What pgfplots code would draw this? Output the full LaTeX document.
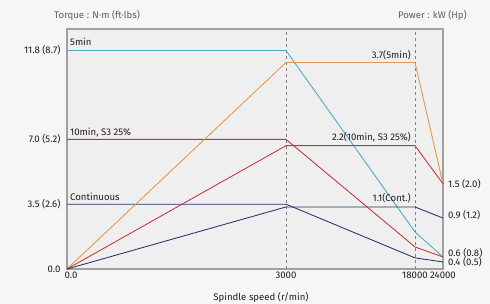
\documentclass[border=0pt]{standalone}
\usepackage{fontspec}
\setmainfont{Fira Sans}
\usepackage{pgfplots}
\pgfplotsset{compat=1.18}
\definecolor{pagebg}{HTML}{F6F6F6}
\definecolor{plotbg}{HTML}{EFEFEF}
\definecolor{framec}{HTML}{A0A0A0}
\definecolor{cyanl}{HTML}{4BA7C4}
\definecolor{orangel}{HTML}{E89548}
\definecolor{redl}{HTML}{C9303A}
\definecolor{navyl}{HTML}{253566}
\definecolor{titlegray}{HTML}{5E5E5E}
\definecolor{textc}{HTML}{1E1E1E}
\newcommand{\lblfont}{\fontsize{9.6}{11}\selectfont}
\begin{document}
\begin{tikzpicture}[x=1pt,y=1pt]
\fill[pagebg] (0,0) rectangle (490,304);
\useasboundingbox (0,0) rectangle (490,304);
% x positions: 0 rpm -> 0, 3000 -> 219, 18000 -> 348, 24000 -> 376 (non-linear speed axis)
\begin{axis}[at={(67pt,35pt)}, anchor=south west, scale only axis,
  width=376pt, height=240pt,
  xmin=0, xmax=376, ymin=0, ymax=12.96,
  clip=false,
  axis background/.style={fill=plotbg},
  axis line style={framec, line width=1.2pt},
  xtick={0,219,348,376}, xticklabels={\hspace{8pt}0.0,3000,18000\hspace{17pt},24000},
  ytick={0,3.5,7.0,11.8}, yticklabels={0.0,3.5 (2.6),7.0 (5.2),11.8 (8.7)},
  major tick length=0pt,
  /pgf/number format/assume math mode=true,
  tick label style={font=\lblfont, text=textc},
  xticklabel style={yshift=1pt},
  yticklabel style={xshift=-3pt},
  every axis plot/.append style={line width=0.85pt},
]
\addplot[gray, dashed, line width=0.7pt] coordinates {(219,0) (219,12.96)};
\addplot[gray, dashed, line width=0.7pt] coordinates {(348,0) (348,12.96)};
% torque
\addplot[cyanl] coordinates {(0,11.8) (219,11.8) (348,2.0) (376,0.65)};
\addplot[redl] coordinates {(0,7.0) (219,7.0) (348,1.19) (376,0.65)};
\addplot[navyl] coordinates {(0,3.5) (219,3.5) (348,0.6) (376,0.38)};
% power
\addplot[orangel] coordinates {(0,0) (219,11.15) (348,11.15) (376,4.6)};
\addplot[redl] coordinates {(0,0) (219,6.66) (348,6.66) (376,4.6)};
\addplot[navyl] coordinates {(0,0) (219,3.35) (348,3.35) (376,2.75)};
\begin{scope}[every node/.style={font=\lblfont, text=textc, inner sep=0pt}]
\node[anchor=base west] at (axis cs:3,11.8) [yshift=4.5pt] {5min};
\node[anchor=base west] at (axis cs:3,7.0) [yshift=3.5pt] {10min, S3 25\%};
\node[anchor=base west] at (axis cs:3,3.5) [yshift=3.5pt] {Continuous};
\node[anchor=base east] at (axis cs:344,11.15) [yshift=4.5pt] {3.7(5min)};
\node[anchor=base east] at (axis cs:344,6.66) [yshift=5pt] {2.2(10min, S3 25\%)};
\node[anchor=base east] at (axis cs:344,3.35) [yshift=5pt] {1.1(Cont.)};
\node[anchor=west] at (axis cs:376,4.6) [xshift=5pt] {1.5 (2.0)};
\node[anchor=west] at (axis cs:376,2.9) [xshift=5pt] {0.9 (1.2)};
\node[anchor=west] at (axis cs:376,0.88) [xshift=5pt] {0.6 (0.8)};
\node[anchor=west] at (axis cs:376,0.38) [xshift=5pt] {0.4 (0.5)};
\end{scope}
\end{axis}
\node[anchor=west, font=\lblfont, text=titlegray, inner sep=0pt] at (54,289) {Torque : N·m (ft·lbs)};
\node[anchor=east, font=\lblfont, text=titlegray, inner sep=0pt] at (467,289) {Power : kW (Hp)};
\node[font=\lblfont, text=textc, inner sep=0pt] at (261,7) {Spindle speed (r/min)};
\end{tikzpicture}
\end{document}
